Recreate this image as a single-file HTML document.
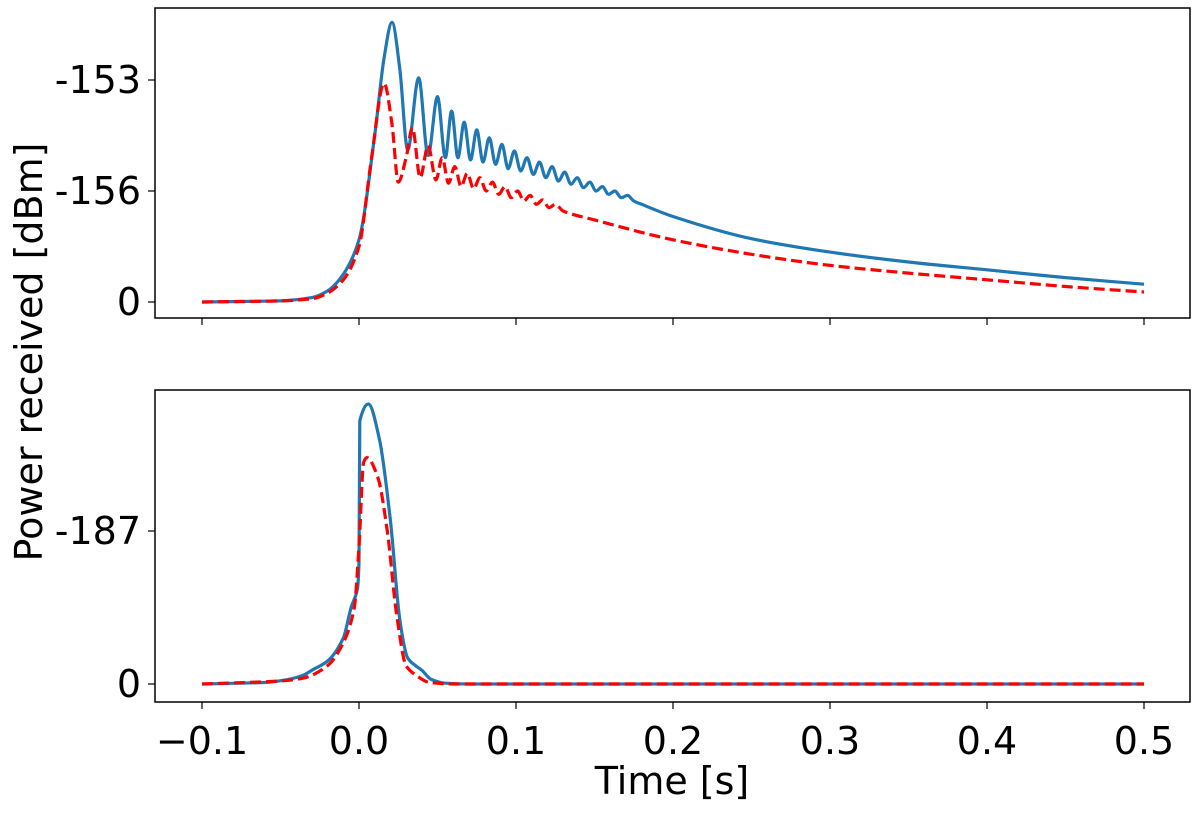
<!DOCTYPE html>
<html><head><meta charset="utf-8"><style>
body{margin:0;background:#fff}
svg text{font-family:"DejaVu Sans","Liberation Sans",sans-serif;fill:#000}
</style></head><body>
<svg id="chart" width="1200" height="813" viewBox="0 0 1200 813">
</svg>
<script>
const xTicks=[-0.1,0,0.1,0.2,0.3,0.4,0.5];
const xTickLabels=["\u22120.1","0.0","0.1","0.2","0.3","0.4","0.5"];
const topYTicks=[0,1,2];
const topYLabels=["0","-156","-153"];
const botYTicks=[0,1];
const botYLabels=["0","-187"];
const topBlueT=[-0.1,-0.05,-0.03,-0.02,-0.01,0.0,0.01,0.016,0.021,0.026,0.031,0.038,0.044,0.05,0.055,0.059,0.063,0.067,0.071,0.075,0.079,0.083,0.087,0.091,0.095,0.099,0.103,0.107,0.111,0.115,0.119,0.123,0.127,0.131,0.135,0.139,0.143,0.147,0.151,0.155,0.159,0.163,0.167,0.171,0.175,0.18,0.2,0.25,0.3,0.35,0.4,0.45,0.5];
const topBlueV=[0,0.01,0.04,0.1,0.25,0.56,1.5,2.2,2.52,2.1,1.37,2.02,1.32,1.85,1.3,1.72,1.3,1.62,1.28,1.55,1.26,1.48,1.24,1.42,1.2,1.36,1.18,1.3,1.15,1.26,1.12,1.22,1.09,1.17,1.06,1.12,1.03,1.08,1.0,1.04,0.97,1.0,0.94,0.96,0.91,0.88,0.77,0.57,0.45,0.36,0.29,0.22,0.16];
const topRedT=[-0.1,-0.05,-0.03,-0.02,-0.01,0.0,0.008,0.016,0.021,0.025,0.03,0.034,0.039,0.044,0.049,0.053,0.057,0.061,0.065,0.069,0.073,0.077,0.081,0.085,0.089,0.093,0.097,0.101,0.105,0.109,0.113,0.117,0.121,0.125,0.13,0.15,0.2,0.25,0.3,0.35,0.4,0.45,0.5];
const topRedV=[0,0.01,0.03,0.08,0.2,0.5,1.3,1.97,1.6,1.08,1.3,1.57,1.12,1.41,1.1,1.3,1.07,1.22,1.04,1.16,1.02,1.12,1.0,1.08,0.97,1.04,0.94,1.0,0.91,0.96,0.88,0.92,0.85,0.88,0.82,0.74,0.56,0.43,0.33,0.26,0.2,0.14,0.09];
const botBlueT=[-0.1,-0.06,-0.045,-0.035,-0.03,-0.02,-0.01,-0.005,-0.001,0.0,0.0005,0.006,0.013,0.02,0.026,0.031,0.036,0.04,0.046,0.055,0.07,0.5];
const botBlueV=[0,0.01,0.03,0.06,0.09,0.15,0.3,0.5,0.62,0.8,1.72,1.83,1.6,1.07,0.42,0.17,0.12,0.09,0.03,0.005,0,0];
const botRedT=[-0.1,-0.05,-0.035,-0.02,-0.01,-0.003,0.0,0.003,0.005,0.012,0.018,0.024,0.03,0.036,0.045,0.06,0.5];
const botRedV=[0,0.02,0.04,0.12,0.27,0.5,0.9,1.45,1.48,1.35,1.0,0.45,0.12,0.06,0.01,0,0];

const svg=document.getElementById('chart');
const NS='http://www.w3.org/2000/svg';
const X0=155,X1=1190;
const xs=t=>359+(t)*1570;
const topY=v=>302-v*111;
const botY=v=>684-v*153;
function mk(tag,attrs){const e=document.createElementNS(NS,tag);for(const k in attrs)e.setAttribute(k,attrs[k]);svg.appendChild(e);return e;}
function panel(y0,y1,yfn,ticks,labels,name,showX){
  const r=mk('rect',{x:X0,y:y0,width:X1-X0,height:y1-y0,fill:'none',stroke:'#000','stroke-width':1.5});
  
  
  ticks.forEach((v,i)=>{
    const y=yfn(v);
    const l=mk('line',{x1:X0-7,x2:X0,y1:y,y2:y,stroke:'#000','stroke-width':1.2});
    
    
    const t=mk('text',{x:X0-14,y:y+13,'text-anchor':'end','font-size':38});
    t.textContent=labels[i];
    
    
  });
  xTicks.forEach((v,i)=>{
    const x=xs(v);
    const l=mk('line',{x1:x,x2:x,y1:y1,y2:y1+7,stroke:'#000','stroke-width':1.2});
    
    
    if(showX){
      const t=mk('text',{x:x,y:y1+52,'text-anchor':'middle','font-size':38});
      t.textContent=xTickLabels[i];
      
      
    }
  });
}
function line(T,V,yfn,color,dash,name){
  const P=T.map((t,i)=>[xs(t),yfn(V[i])]);
  const n=P.length;
  const s=[];for(let i=0;i<n-1;i++)s.push((P[i+1][1]-P[i][1])/Math.max(1e-6,P[i+1][0]-P[i][0]));
  const m=[];
  for(let i=0;i<n;i++){
    if(i===0)m.push(s[0]);else if(i===n-1)m.push(s[n-2]);
    else m.push(s[i-1]*s[i]<=0?0:2/(1/s[i-1]+1/s[i]));
  }
  let d='M'+P[0][0].toFixed(1)+','+P[0][1].toFixed(1);
  for(let i=0;i<n-1;i++){
    const dx=(P[i+1][0]-P[i][0])/3;
    d+=' C'+(P[i][0]+dx).toFixed(1)+','+(P[i][1]+m[i]*dx).toFixed(1)+' '+(P[i+1][0]-dx).toFixed(1)+','+(P[i+1][1]-m[i+1]*dx).toFixed(1)+' '+P[i+1][0].toFixed(1)+','+P[i+1][1].toFixed(1);
  }
  const p=mk('path',{d:d,fill:'none',stroke:color,'stroke-width':3.2,'stroke-linejoin':'round'});
  if(dash)p.setAttribute('stroke-dasharray','11,5');
  
  
}
panel(8,318,topY,topYTicks,topYLabels,'top-panel',false);
panel(390,702,botY,botYTicks,botYLabels,'bottom-panel',true);
line(topBlueT,topBlueV,topY,'#1f77b4',false,'top-blue-series');
line(topRedT,topRedV,topY,'#ff0000',true,'top-red-series');
line(botBlueT,botBlueV,botY,'#1f77b4',false,'bottom-blue-series');
line(botRedT,botRedV,botY,'#ff0000',true,'bottom-red-series');
const yl=mk('text',{x:0,y:0,'text-anchor':'middle','font-size':38,transform:'translate(42,352) rotate(-90)'});
yl.textContent='Power received [dBm]';


const xl=mk('text',{x:672,y:794,'text-anchor':'middle','font-size':38});
xl.textContent='Time [s]';


</script>
</body></html>
